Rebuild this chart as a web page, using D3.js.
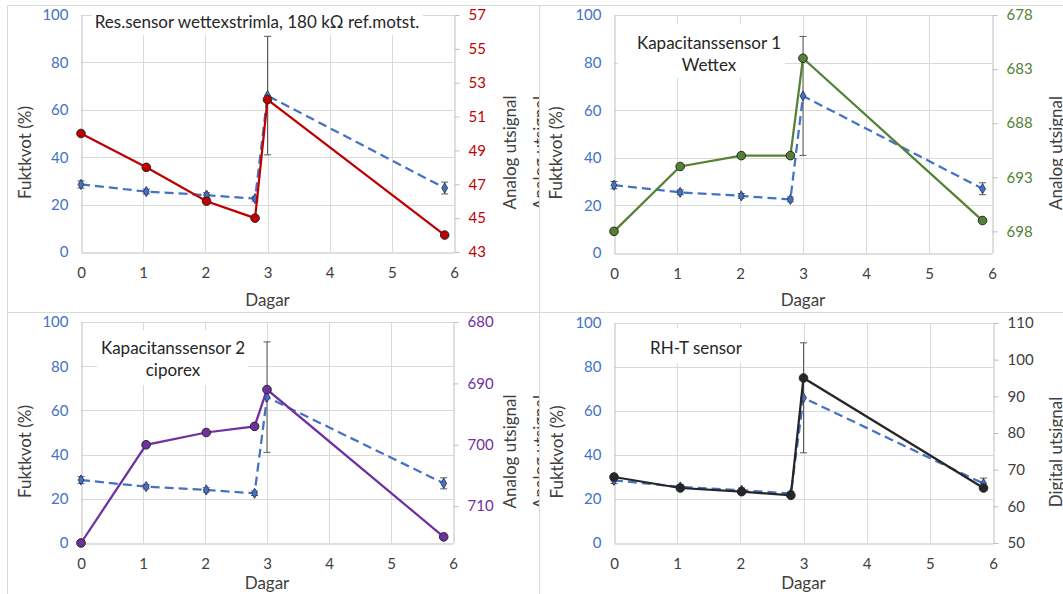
<!DOCTYPE html>
<html>
<head>
<meta charset="utf-8" />
<title>Fuktkvot och sensorsignal</title>
<style>
  body { margin: 0; background: #fff; }
  svg text { font-family: Lato, 'Open Sans', sans-serif; }
</style>
</head>
<body>
<div id="wrapper"></div>
<script src="https://d3js.org/d3.v7.min.js"></script>
<script>
  // data
  const days = [0, 1.05, 2.02, 2.8, 3.0, 5.85]
  const fuktkvot = [28.5, 25.5, 24, 22.5, 66, 27]
  const fuktErr = [1.5, 1, 1, 1, 25, 2.5]
  const resSignal = [50, 48, 46, 45, 52, 44]
  const kap1Signal = [698, 692, 691, 691, 682, 697]
  const kap2Signal = [716, 700, 698, 697, 691, 715]
  const rhtSignal = [68, 65, 64, 63, 95, 65]

  const dayTicks = [0, 1, 2, 3, 4, 5, 6]
  const fuktTicks = [0, 20, 40, 60, 80, 100]
  const resTicks = [43, 45, 47, 49, 51, 53, 55, 57]
  const kap1Ticks = [678, 683, 688, 693, 698]
  const kap2Ticks = [680, 690, 700, 710]
  const rhtTicks = [50, 60, 70, 80, 90, 100, 110]

  const fukt = days.map((d, i) => ({ day: d, v: fuktkvot[i], e: fuktErr[i] }))

  const panels = [
    {
      frame: [7, 5, 539, 312], x0: 81, x1: 454, yTop: 15, yBot: 252,
      signal: resSignal, rDomain: [43, 57], rTicks: resTicks, color: '#C00000',
      rTitle: 'Analog utsignal', title: ['Res.sensor wettexstrimla, 180 kΩ ref.motst.'],
      titleY: 28, titleX: 257, box: [92, 6, 423, 35], dagarDy: 54, leftTitleX: 31, rightTitleX: 516
    },
    {
      frame: [539, 5, 1075, 312], x0: 614, x1: 992, yTop: 15, yBot: 253,
      signal: kap1Signal, rDomain: [700, 678], rTicks: kap1Ticks, color: '#548235',
      rTitle: 'Analog utsignal', title: ['Kapacitanssensor 1', 'Wettex'],
      titleY: 49, titleX: 709, box: [618, 24, 785, 78], dagarDy: 53, leftTitleX: 562, rightTitleX: 1062,
      ghost: true
    },
    {
      frame: [7, 312, 539, 600], x0: 81, x1: 453, yTop: 322, yBot: 543,
      signal: kap2Signal, rDomain: [716, 680], rTicks: kap2Ticks, color: '#7030A0',
      rTitle: 'Analog utsignal', title: ['Kapacitanssensor 2', 'ciporex'],
      titleY: 354, titleX: 173, box: [97, 330, 248, 385], dagarDy: 46, leftTitleX: 31, rightTitleX: 516
    },
    {
      frame: [539, 312, 1075, 600], x0: 614, x1: 993, yTop: 323, yBot: 543,
      signal: rhtSignal, rDomain: [50, 110], rTicks: rhtTicks, color: '#262626', tickColor: '#404040',
      rTitle: 'Digital utsignal', title: ['RH-T sensor'],
      titleY: 354, titleX: 696, box: [643, 328, 747, 363], dagarDy: 46, leftTitleX: 563, rightTitleX: 1062,
      ghost: true
    }
  ]

  const svg = d3.select('#wrapper')
    .append('svg')
      .attr('width', 1063)
      .attr('height', 594)

  const drawPanel = (p) => {
    const g = svg.append('g')
    const midY = (p.yTop + p.yBot) / 2 + 19

    // leftover axis title peeking from behind the chart
    if (p.ghost) {
      g.append('text')
        .attr('transform', `translate(546,${midY}) rotate(-90)`)
        .attr('text-anchor', 'middle')
        .attr('font-size', 17)
        .attr('fill', '#404040')
        .text('Analog utsignal')
    }

    g.append('rect')
      .attr('x', p.frame[0] + 0.5).attr('y', p.frame[1] + 0.5)
      .attr('width', p.frame[2] - p.frame[0]).attr('height', p.frame[3] - p.frame[1])
      .attr('fill', '#fff').attr('stroke', '#d9d9d9')

    const x = d3.scaleLinear().domain([0, 6]).range([p.x0, p.x1])
    const y = d3.scaleLinear().domain([0, 100]).range([p.yBot, p.yTop])
    const yR = d3.scaleLinear().domain(p.rDomain).range([p.yBot, p.yTop])

    // gridlines
    g.append('g').selectAll('line.h')
      .data(fuktTicks.slice(1))
      .join('line')
        .attr('x1', p.x0).attr('x2', p.x1)
        .attr('y1', d => Math.round(y(d)) + 0.5).attr('y2', d => Math.round(y(d)) + 0.5)
        .attr('stroke', '#d9d9d9')
    g.append('g').selectAll('line.v')
      .data(dayTicks.slice(1, -1))
      .join('line')
        .attr('x1', d => Math.round(x(d)) + 0.5).attr('x2', d => Math.round(x(d)) + 0.5)
        .attr('y1', p.yTop).attr('y2', p.yBot)
        .attr('stroke', '#d9d9d9')

    // title box hides the grid behind it
    g.append('rect')
      .attr('x', p.box[0]).attr('y', p.box[1])
      .attr('width', p.box[2] - p.box[0]).attr('height', p.box[3] - p.box[1])
      .attr('fill', '#fff')
    g.append('text')
      .attr('text-anchor', 'middle')
      .attr('font-size', 17)
      .attr('fill', '#262626')
      .selectAll('tspan')
      .data(p.title)
      .join('tspan')
        .attr('x', p.titleX)
        .attr('y', (d, i) => p.titleY + i * 22)
        .text(d => d)

    // axes
    const left = g.append('g')
      .attr('transform', `translate(${p.x0 + 0.5},0)`)
      .call(d3.axisLeft(y).tickValues(fuktTicks).tickSize(0).tickPadding(13))
    left.select('.domain').attr('stroke', '#bfbfbf')
    left.selectAll('text').attr('fill', '#4472C4').attr('font-size', 15).attr('font-family', null)

    const bottom = g.append('g')
      .attr('transform', `translate(0,${p.yBot + 0.5})`)
      .call(d3.axisBottom(x).tickValues(dayTicks).tickSize(0).tickPadding(15).tickFormat(d3.format('d')))
    bottom.select('.domain').attr('stroke', '#bfbfbf')
    bottom.selectAll('text').attr('fill', '#404040').attr('font-size', 15).attr('font-family', null)

    const right = g.append('g')
      .attr('transform', `translate(${p.x1 + 0.5},0)`)
      .call(d3.axisRight(yR).tickValues(p.rTicks).tickSize(5).tickSizeOuter(0).tickPadding(9))
    right.select('.domain').attr('stroke', '#bfbfbf')
    right.selectAll('line').attr('stroke', '#bfbfbf')
    right.selectAll('text').attr('fill', p.tickColor || p.color).attr('font-size', 15).attr('font-family', null)

    g.append('text')
      .attr('x', (p.x0 + p.x1) / 2).attr('y', p.yBot + p.dagarDy)
      .attr('text-anchor', 'middle').attr('font-size', 17).attr('fill', '#404040')
      .text('Dagar')
    g.append('text')
      .attr('transform', `translate(${p.leftTitleX},${midY}) rotate(-90)`)
      .attr('text-anchor', 'middle').attr('font-size', 17).attr('fill', '#404040')
      .text('Fuktkvot  (%)')
    g.append('text')
      .attr('transform', `translate(${p.rightTitleX},${midY}) rotate(-90)`)
      .attr('text-anchor', 'middle').attr('font-size', 17).attr('fill', '#404040')
      .text(p.rTitle)

    // fuktkvot, dashed with error bars
    g.append('path')
      .datum(fukt)
      .attr('fill', 'none')
      .attr('stroke', '#4472C4')
      .attr('stroke-width', 2.25)
      .attr('stroke-dasharray', '9,5')
      .attr('d', d3.line().x(d => x(d.day)).y(d => y(d.v)))

    const err = g.append('g').attr('stroke', '#595959').attr('stroke-width', 1)
    err.selectAll('line.bar')
      .data(fukt)
      .join('line')
        .attr('x1', d => x(d.day)).attr('x2', d => x(d.day))
        .attr('y1', d => y(d.v - d.e)).attr('y2', d => y(d.v + d.e))
    err.selectAll('line.cap')
      .data(fukt.flatMap(d => [d.v - d.e, d.v + d.e].map(v => ({ day: d.day, v }))))
      .join('line')
        .attr('x1', d => x(d.day) - 3.5).attr('x2', d => x(d.day) + 3.5)
        .attr('y1', d => y(d.v)).attr('y2', d => y(d.v))

    g.append('g').selectAll('path')
      .data(fukt)
      .join('path')
        .attr('transform', d => `translate(${x(d.day)},${y(d.v)})`)
        .attr('d', d3.symbol(d3.symbolDiamond, 30))
        .attr('fill', '#4472C4')
        .attr('stroke', '#1f2a44')
        .attr('stroke-width', 0.8)

    // sensor signal on the right axis
    const sig = days.map((d, i) => ({ day: d, v: p.signal[i] }))
    g.append('path')
      .datum(sig)
      .attr('fill', 'none')
      .attr('stroke', p.color)
      .attr('stroke-width', 2.25)
      .attr('d', d3.line().x(d => x(d.day)).y(d => yR(d.v)))
    g.append('g').selectAll('circle')
      .data(sig)
      .join('circle')
        .attr('cx', d => x(d.day)).attr('cy', d => yR(d.v))
        .attr('r', 4.3)
        .attr('fill', p.color)
        .attr('stroke', '#262626')
        .attr('stroke-width', 1)
  }

  panels.forEach(drawPanel)
</script>
</body>
</html>
